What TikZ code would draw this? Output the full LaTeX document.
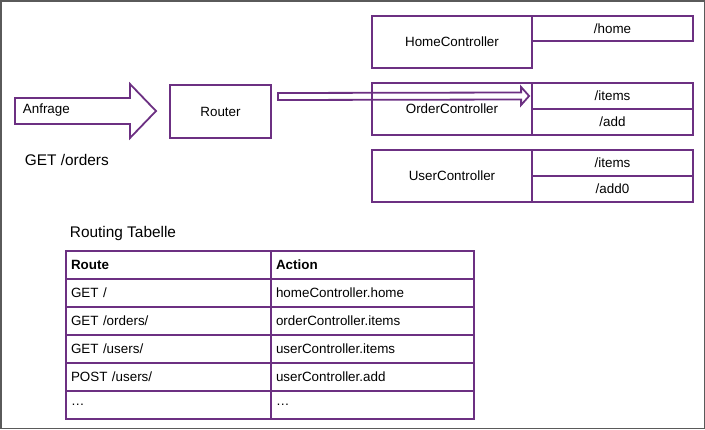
\documentclass[tikz,border=0pt]{standalone}
\usepackage{fontspec}
\setmainfont{Liberation Sans}
\usetikzlibrary{calc}
\definecolor{lila}{RGB}{108,48,130}
\definecolor{rahmen}{RGB}{90,90,90}

\begin{document}
\begin{tikzpicture}[x=1pt, y=-1pt, line width=1.8pt,
    txt/.style={font=\fontsize{13.4}{16}\selectfont, inner sep=0pt},
    bigtxt/.style={txt, font=\fontsize{15.4}{18}\selectfont},
    ctrl/.style={txt, draw=lila, minimum width=160pt, minimum height=52pt},
    slot/.style={txt, draw=lila, minimum width=161pt, minimum height=26pt},
    cell/.style={txt, draw=lila, minimum height=28pt, inner xsep=5pt, align=left},
    routecell/.style={cell, text width=195pt},
    actioncell/.style={cell, text width=193pt}]
    \useasboundingbox (0,0) rectangle (705,429);
    \draw[rahmen, line width=1.5pt] (0.75,0.75) rectangle (704.25,428.25);
    % Anfrage
    \draw[lila] (15,98) -- (130,98) -- (130,84) -- (156,111) -- (130,138) -- (130,124) -- (15,124) -- cycle;
    \node[txt, anchor=west] (anfrage) at (22,110) {Anfrage};
    \node[bigtxt, anchor=west] (getorders) at (24,160) {GET /orders};
    \node[txt, draw=lila, minimum width=101pt, minimum height=53pt] (router) at (220.5,111.5) {Router};
    % Controller
    \node[ctrl] (home) at (452,42) {HomeController};
    \node[slot, minimum height=25pt] (homehome) at (612.5,28.5) {/home};
    \node[ctrl] (order) at (452,109) {OrderController};
    \node[slot] (orderitems) at (612.5,96) {/items};
    \node[slot] (orderadd) at (612.5,122) {/add};
    \node[ctrl] (user) at (452,176) {UserController};
    \node[slot] (useritems) at (612.5,163) {/items};
    \node[slot] (useradd) at (612.5,189) {/add0};
    % Weiterleitung
    \coordinate (abgang) at ($(router.east)+(6,-15)$);
    \draw[lila] ($(abgang)+(0,-3.5)$) -- ($(orderitems.west)+(-10,-3.5)$)
        -- ($(orderitems.west)+(-10,-9)$) -- ($(orderitems.west)+(-2,0)$)
        -- ($(orderitems.west)+(-10,9)$) -- ($(orderitems.west)+(-10,3.5)$)
        -- ($(abgang)+(0,3.5)$) -- cycle;
    % Routing Tabelle
    \node[bigtxt, anchor=west] (tabelle) at (69,234) {Routing Tabelle};
    \node[routecell, font=\fontsize{13.4}{16}\selectfont\bfseries] (r0) at (168.5,265) {Route};
    \node[actioncell, font=\fontsize{13.4}{16}\selectfont\bfseries] (a0) at (372.5,265) {Action};
    \node[routecell] (r1) at (168.5,293) {GET /};
    \node[actioncell] (a1) at (372.5,293) {homeController.home};
    \node[routecell] (r2) at (168.5,321) {GET /orders/};
    \node[actioncell] (a2) at (372.5,321) {orderController.items};
    \node[routecell] (r3) at (168.5,349) {GET /users/};
    \node[actioncell] (a3) at (372.5,349) {userController.items};
    \node[routecell] (r4) at (168.5,377) {POST /users/};
    \node[actioncell] (a4) at (372.5,377) {userController.add};
    \node[routecell] (r5) at (168.5,405) {…};
    \node[actioncell] (a5) at (372.5,405) {…};
\end{tikzpicture}
\end{document}
